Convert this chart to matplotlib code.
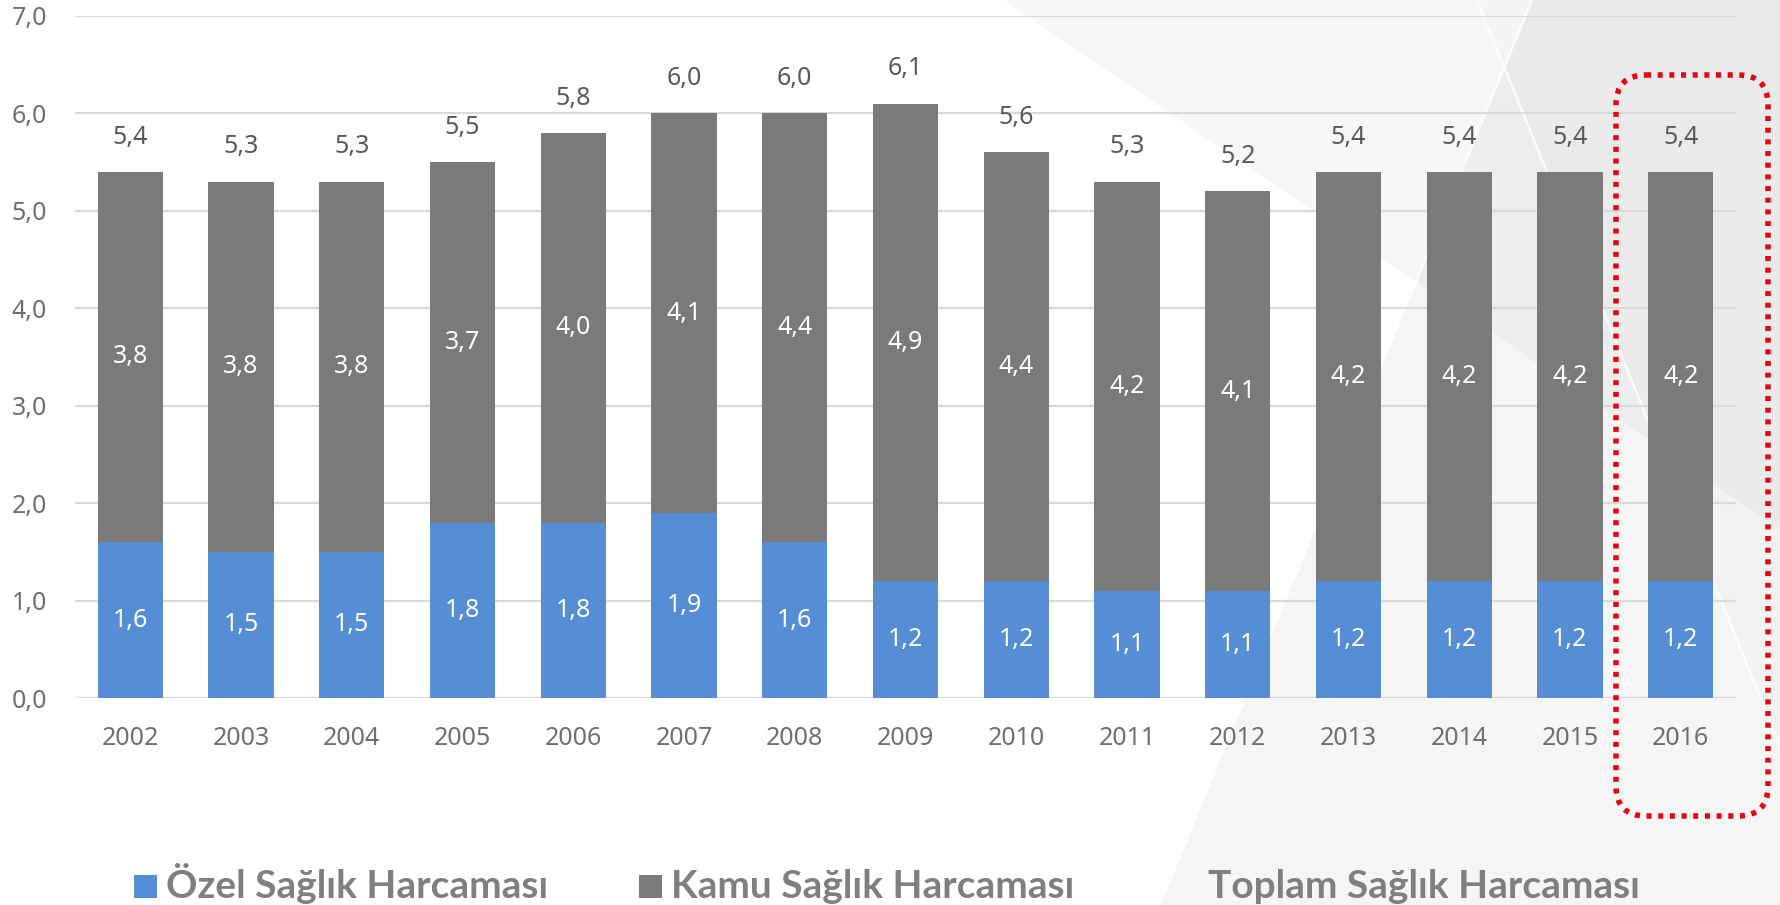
import matplotlib
matplotlib.use('Agg')
import matplotlib.pyplot as plt
from matplotlib.patches import Polygon, Rectangle, FancyBboxPatch
import numpy as np

# ---------------- data ----------------
years = ['2002', '2003', '2004', '2005', '2006', '2007', '2008', '2009',
         '2010', '2011', '2012', '2013', '2014', '2015', '2016']
ozel = [1.6, 1.5, 1.5, 1.8, 1.8, 1.9, 1.6, 1.2, 1.2, 1.1, 1.1, 1.2, 1.2, 1.2, 1.2]
kamu = [3.8, 3.8, 3.8, 3.7, 4.0, 4.1, 4.4, 4.9, 4.4, 4.2, 4.1, 4.2, 4.2, 4.2, 4.2]
toplam = [5.4, 5.3, 5.3, 5.5, 5.8, 6.0, 6.0, 6.1, 5.6, 5.3, 5.2, 5.4, 5.4, 5.4, 5.4]
series_names = ['Özel Sağlık Harcaması', 'Kamu Sağlık Harcaması', 'Toplam Sağlık Harcaması']
y_ticks = [0, 1, 2, 3, 4, 5, 6, 7]

# ---------------- style ----------------
BLUE = '#558ED5'
GRAY = '#7A7A7A'
FONT = 'Noto Sans'
LEG_FONT = 'Lato'
W, H = 1781, 905

def fmt(v):
    return f'{v:.1f}'.replace('.', ',')

fig = plt.figure(figsize=(W / 100, H / 100), dpi=100)
fig.patch.set_facecolor('white')

# background decoration (pixel coordinates)
bg = fig.add_axes([0, 0, 1, 1], zorder=0)
bg.set_xlim(0, W); bg.set_ylim(H, 0); bg.axis('off')
bg.add_patch(Polygon([(1004, 0), (W, 0), (W, 530)], closed=True, facecolor='black', alpha=0.03, lw=0))
bg.add_patch(Polygon([(1532, 0), (W, 0), (W, H), (1160, H)], closed=True, facecolor='black', alpha=0.04, lw=0))
bg.add_patch(Polygon([(1477, 0), (W, 0), (W, 748)], closed=True, facecolor='black', alpha=0.012, lw=0))
bg.plot([1532, 1160], [0, H], color='white', lw=1.5, alpha=0.9)
bg.plot([1477, 1790], [0, 770], color='white', lw=1.5, alpha=0.9)

# main axes
ax = fig.add_axes([75 / W, 1 - 698 / H, (1736 - 75) / W, (698 - 16) / H], zorder=1)
ax.patch.set_alpha(0)
x = np.arange(len(years))
bw = 0.59
ax.bar(x, ozel, bw, color=BLUE, zorder=2)
ax.bar(x, kamu, bw, bottom=ozel, color=GRAY, zorder=2)
ax.set_xlim(-0.5, len(years) - 0.5)
ax.set_ylim(0, 7)
ax.set_yticks(y_ticks)
ax.set_yticklabels([fmt(v) for v in y_ticks])
ax.set_xticks(x)
ax.set_xticklabels(years)
ax.yaxis.grid(True, color='#d9d9d9', lw=1.6)
ax.set_axisbelow(True)
for s in ax.spines.values():
    s.set_visible(False)
ax.tick_params(axis='both', length=0, labelsize=18, labelcolor='#6f6f6f')
ax.tick_params(axis='y', pad=20)
ax.tick_params(axis='x', pad=20)
for lab in ax.get_xticklabels() + ax.get_yticklabels():
    lab.set_fontfamily(FONT)

for i in range(len(years)):
    ax.text(x[i], ozel[i] / 2, fmt(ozel[i]), ha='center', va='center',
            color='white', fontsize=18, family=FONT, zorder=3)
    ax.text(x[i], ozel[i] + kamu[i] / 2, fmt(kamu[i]), ha='center', va='center',
            color='white', fontsize=18, family=FONT, zorder=3)
    ax.annotate(fmt(toplam[i]), (x[i], toplam[i]), xytext=(0, 25), textcoords='offset points',
                ha='center', va='center', color='#595959', fontsize=18, family=FONT, zorder=3)

# overlay: legend and highlight box (pixel coordinates)
ov = fig.add_axes([0, 0, 1, 1], zorder=3)
ov.set_xlim(0, W); ov.set_ylim(H, 0); ov.axis('off')
ov.patch.set_alpha(0)

leg_marker_x = [134, 639, None]
leg_text_x = [166, 671, 1208]
leg_colors = [BLUE, GRAY, None]
for name, mx, tx, c in zip(series_names, leg_marker_x, leg_text_x, leg_colors):
    if mx is not None:
        ov.add_patch(Rectangle((mx, 875), 23, 23, facecolor=c, lw=0))
    ov.text(tx, 898, name, ha='left', va='baseline', fontsize=28, fontweight='bold',
            family=LEG_FONT, color='#7f7f7f')

box = FancyBboxPatch((1616, 75), 1768 - 1616, 816 - 75,
                     boxstyle='round,pad=0,rounding_size=30',
                     facecolor='none', edgecolor='#E30613', lw=4,
                     linestyle=(0, (0.9, 1.2)))
box.set_capstyle('butt')
ov.add_patch(box)

fig.savefig('out.png', dpi=100)
